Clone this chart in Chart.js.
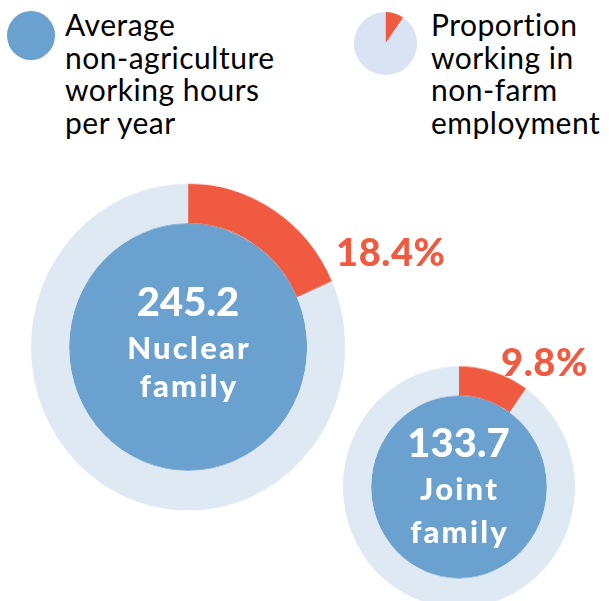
<!DOCTYPE html>
<html>
<head>
<meta charset="utf-8">
<script src="https://cdn.jsdelivr.net/npm/chart.js@4/dist/chart.umd.min.js"></script>
<style>
  html, body { margin: 0; padding: 0; background: #ffffff; }
  #stage { position: relative; width: 609px; height: 601px; overflow: hidden; font-family: Lato, "Open Sans", sans-serif; }
  .abs { position: absolute; white-space: nowrap; }
  .legend-text { font-size: 30px; line-height: 32.5px; letter-spacing: 0.5px; color: #000000; }
  .center-line { color: #ffffff; font-weight: 900; text-align: center; }
  .pct { color: #ef5a41; font-weight: 900; letter-spacing: 0.6px; }
  .ring { position: absolute; transform: scaleY(1.04); transform-origin: 50% 50%; }
</style>
</head>
<body>
<div id="stage">
  <div class="abs" id="legendDot" style="left:7px; top:11px; width:48px; height:49px; border-radius:50%; background:#6aa1ce;"></div>
  <div class="abs legend-text" style="left:65px; top:8.1px;">Average<br>non-agriculture<br>working hours<br>per year</div>
  <div class="abs" style="left:354px; top:11px; width:63px; height:65px;"><canvas id="iconPie"></canvas></div>
  <div class="abs legend-text" style="left:431px; top:8.1px;">Proportion<br>working in<br>non-farm<br>employment</div>
</div>
<script>
// Household types, their yearly non-farm hours and non-farm employment share (%)
const families = ["Nuclear family", "Joint family"];
const hoursPerYear = [245.2, 133.7];
const nonFarmShare = [18.4, 9.8];
// Share shown in the small key pie
const keyPieShare = [9.5, 90.5];

const RED = "#ef5a41";
const RING = "#dfe9f4";
const BLUE = "#6aa1ce";

// Layout of each bubble: centre point, text sizes/tops, percent label spot
const centres = [[188, 347.5], [458.5, 487]];
const textLayout = [
  { num: [40, 280.5], l1: [31, 331.5], l2: [31, 370], pct: [336, 231.5] },
  { num: [40, 421.5], l1: [31, 472.5], l2: [31, 515.5], pct: [501, 341.5] }
];
const WORD_SPACING = 2.2;

const stage = document.getElementById("stage");
const AREA_K = 7.6;        // disc radius per sqrt(hour)
const RING_RATIO = 0.32;   // ring thickness relative to disc radius

families.forEach((name, i) => {
  const inner = AREA_K * Math.sqrt(hoursPerYear[i]);
  const outer = inner * (1 + RING_RATIO);
  const [cx, cy] = centres[i];

  const box = document.createElement("div");
  box.className = "ring";
  box.style.left = (cx - outer) + "px";
  box.style.top = (cy - outer) + "px";
  box.style.width = (2 * outer) + "px";
  box.style.height = (2 * outer) + "px";
  const cv = document.createElement("canvas");
  box.appendChild(cv);
  stage.appendChild(box);

  new Chart(cv, {
    type: "doughnut",
    data: {
      labels: ["Non-farm", "Other"],
      datasets: [
        {
          data: [nonFarmShare[i], 100 - nonFarmShare[i]],
          backgroundColor: [RED, RING],
          borderWidth: 0,
          weight: RING_RATIO
        },
        {
          data: [hoursPerYear[i]],
          backgroundColor: [BLUE],
          borderWidth: 0,
          weight: 1
        }
      ]
    },
    options: {
      responsive: true,
      maintainAspectRatio: false,
      animation: false,
      events: [],
      cutout: 0,
      rotation: 0,
      layout: { padding: 0 },
      elements: { arc: { hoverOffset: 0, offset: 0, borderWidth: 0 } },
      plugins: { legend: { display: false }, tooltip: { enabled: false } }
    }
  });

  const words = name.split(" ");
  const t = textLayout[i];
  const lines = [
    [hoursPerYear[i].toFixed(1), t.num, 0],
    [words[0], t.l1, WORD_SPACING],
    [words[1], t.l2, WORD_SPACING]
  ];
  lines.forEach(([txt, [size, top], ls]) => {
    const d = document.createElement("div");
    d.className = "abs center-line";
    d.textContent = txt;
    d.style.fontSize = size + "px";
    d.style.lineHeight = size + "px";
    d.style.letterSpacing = ls + "px";
    d.style.paddingLeft = ls + "px";
    d.style.width = "200px";
    d.style.left = (cx - 100 - ls / 2) + "px";
    d.style.top = top + "px";
    stage.appendChild(d);
  });

  const p = document.createElement("div");
  p.className = "abs pct";
  p.textContent = nonFarmShare[i].toFixed(1) + "%";
  p.style.fontSize = "38px";
  p.style.lineHeight = "38px";
  p.style.left = t.pct[0] + "px";
  p.style.top = t.pct[1] + "px";
  stage.appendChild(p);
});

// Key pie
new Chart(document.getElementById("iconPie"), {
  type: "pie",
  data: {
    labels: ["Non-farm", "Other"],
    datasets: [{ data: keyPieShare, backgroundColor: [RED, "#dae3f3"], borderWidth: 0 }]
  },
  options: {
    responsive: true,
    maintainAspectRatio: false,
    animation: false,
    events: [],
    layout: { padding: 0 },
    elements: { arc: { hoverOffset: 0, offset: 0, borderWidth: 0 } },
    plugins: { legend: { display: false }, tooltip: { enabled: false } }
  }
});
</script>
</body>
</html>
